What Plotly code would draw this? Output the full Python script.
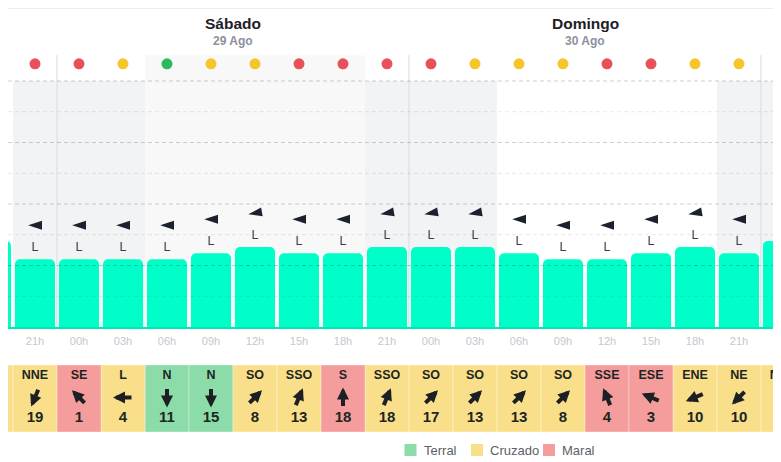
import math

import plotly.graph_objects as go

# one column every 3 hours, from Friday 18h to Monday 00h
cols = list(range(-1, 18))
hours = ['18h', '21h', '00h', '03h', '06h', '09h', '12h', '15h', '18h', '21h',
         '00h', '03h', '06h', '09h', '12h', '15h', '18h', '21h', '00h']
day_of_col = ['Sexta'] * 2 + ['Sábado'] * 8 + ['Domingo'] * 8 + ['Segunda']
days = ['Sábado', 'Domingo']
dates = ['29 Ago', '30 Ago']

wave_m = [0.70, 0.55, 0.55, 0.55, 0.55, 0.60, 0.65, 0.60, 0.60, 0.65,
          0.65, 0.65, 0.60, 0.55, 0.55, 0.60, 0.65, 0.60, 0.70]
swell_dir = [80, 90, 90, 90, 90, 90, 80, 90, 90, 80,
             80, 80, 90, 90, 90, 90, 80, 90, 80]
swell_lbl = ['L'] * 19
rating = ['red', 'red', 'red', 'yellow', 'green', 'yellow', 'yellow', 'red', 'red', 'red',
          'red', 'yellow', 'yellow', 'yellow', 'red', 'red', 'yellow', 'yellow', 'yellow']

wind_dir = ['NNE', 'NNE', 'SE', 'L', 'N', 'N', 'SO', 'SSO', 'S', 'SSO',
            'SO', 'SO', 'SO', 'SO', 'SSE', 'ESE', 'ENE', 'NE', 'NNE']
wind_kmh = [18, 19, 1, 4, 11, 15, 8, 13, 18, 18, 17, 13, 13, 8, 4, 3, 10, 10, 12]
wind_type = ['Cruzado', 'Cruzado', 'Maral', 'Cruzado', 'Terral', 'Terral', 'Cruzado', 'Cruzado',
             'Maral', 'Cruzado', 'Cruzado', 'Cruzado', 'Cruzado', 'Cruzado', 'Maral', 'Maral',
             'Cruzado', 'Cruzado', 'Cruzado']
legend_names = ['Terral', 'Cruzado', 'Maral']

compass = ['N', 'NNE', 'NE', 'ENE', 'L', 'ESE', 'SE', 'SSE',
           'S', 'SSO', 'SO', 'OSO', 'O', 'ONO', 'NO', 'NNO']
dir_deg = {d: i * 22.5 for i, d in enumerate(compass)}

FONT = 'Liberation Sans, Arial, sans-serif'
TEAL = '#00FFC8'
dot_colors = {'red': '#E8505A', 'yellow': '#F6C42B', 'green': '#2DBA5E'}
cell_colors = {'Terral': '#8CDCA9', 'Cruzado': '#F9DF8A', 'Maral': '#F59C9C'}

# the page body keeps an 8px margin, so the figure is made that much smaller
OFF = 8
W, H = 781 - OFF, 462 - OFF
PX_X = 44.0      # px per column
PX_Y = 123.0     # px per metre
X0 = 35 - OFF    # px of column 0
DOT_ROW = 2.14
TOP_DAY = 2.21


def paper_y(ref_px):
    return (462 - ref_px) / H


def paper_x(ref_px):
    return (ref_px - OFF) / W


fig = go.Figure()

# shading for night columns and the highlighted day
for c, h, d in zip(cols, hours, day_of_col):
    if h in ('21h', '00h', '03h'):
        fig.add_shape(type='rect', x0=c - 0.5, x1=c + 0.5, y0=0, y1=2.0,
                      fillcolor='#F2F3F4', line_width=0, layer='below')
    elif d == 'Sábado':
        fig.add_shape(type='rect', x0=c - 0.5, x1=c + 0.5, y0=0, y1=TOP_DAY,
                      fillcolor='#F8F8F8', line_width=0, layer='below')
    if h == '00h':
        fig.add_shape(type='line', x0=c - 0.5, x1=c - 0.5, y0=0, y1=TOP_DAY,
                      line=dict(color='#D5DCE5', width=1), layer='below')

fig.add_trace(go.Bar(x=cols, y=wave_m, width=40 / 44, marker=dict(color=TEAL, cornerradius=5, line_width=0),
                     showlegend=False, hoverinfo='skip'))

for v in [0.25, 0.75, 1.25, 1.75]:
    fig.add_hline(y=v, line=dict(color='rgba(0,0,0,0.09)', width=1, dash='4px,3px'), layer='above')
for v in [0.5, 1.0, 1.5, 2.0]:
    fig.add_hline(y=v, line=dict(color='rgba(0,0,0,0.19)', width=1, dash='4px,3px'), layer='above')

fig.add_trace(go.Scatter(x=cols, y=[DOT_ROW] * len(cols), mode='markers',
                         marker=dict(size=11, color=[dot_colors[r] for r in rating]),
                         showlegend=False, hoverinfo='skip'))

# swell flags: plotly 'arrow' symbol has its tip at the point, so move it half a length
ang = [(d + 180) % 360 for d in swell_dir]
tip_x = [c + 6.8 * math.sin(math.radians(a)) / PX_X for c, a in zip(cols, ang)]
tip_y = [h + 34 / PX_Y + 6.8 * math.cos(math.radians(a)) / PX_Y for h, a in zip(wave_m, ang)]
fig.add_trace(go.Scatter(x=tip_x, y=tip_y, mode='markers',
                         marker=dict(symbol='arrow', size=14.5, angle=ang, color='#1C2130', line_width=0),
                         showlegend=False, hoverinfo='skip'))
fig.add_trace(go.Scatter(x=cols, y=[h + 11 / PX_Y for h in wave_m], mode='text', text=swell_lbl,
                         textfont=dict(family=FONT, size=12.5, color='#3A3F48'),
                         showlegend=False, hoverinfo='skip'))

# wind table
for t in legend_names:
    xs = [c for c, w in zip(cols, wind_type) if w == t]
    fig.add_trace(go.Bar(x=xs, y=[3] * len(xs), width=1, yaxis='y2', name=t, showlegend=False,
                         marker=dict(color=cell_colors[t], cornerradius=0,
                                     line=dict(color='rgba(255,255,255,0.35)', width=1)),
                         hoverinfo='skip'))

fig.add_trace(go.Scatter(x=cols, y=[2.5] * len(cols), yaxis='y2', mode='text', text=wind_dir,
                         textfont=dict(family=FONT, size=12.5, color='#1E2624', weight='bold'),
                         showlegend=False, hoverinfo='skip'))
fig.add_trace(go.Scatter(x=cols, y=[0.6] * len(cols), yaxis='y2', mode='text',
                         text=[str(k) for k in wind_kmh],
                         textfont=dict(family=FONT, size=15, color='#1E2624', weight='bold'),
                         showlegend=False, hoverinfo='skip'))

ARR = 20
for c, d in zip(cols, wind_dir):
    a = math.radians((dir_deg[d] + 180) % 360)
    fig.add_annotation(x=c, y=1.55, xref='x', yref='y2', text='', showarrow=True,
                       ax=-ARR * math.sin(a), ay=ARR * math.cos(a),
                       xshift=ARR / 2 * math.sin(a), yshift=ARR / 2 * math.cos(a),
                       arrowhead=2, arrowsize=0.6, arrowwidth=4, arrowcolor='#1C1F24')

for day, date in zip(days, dates):
    dc = [c for c, d in zip(cols, day_of_col) if d == day]
    xm = sum(dc) / len(dc)
    fig.add_annotation(x=xm, y=paper_y(23), xref='x', yref='paper', yanchor='middle', text=day,
                       showarrow=False, font=dict(family=FONT, size=15.5, color='#1D2026', weight='bold'))
    fig.add_annotation(x=xm, y=paper_y(41), xref='x', yref='paper', yanchor='middle', text=date,
                       showarrow=False, font=dict(family=FONT, size=12, color='#8C919B', weight='bold'))

# legend: rounded swatches with the label just after
legend_x = [410.5, 477, 549]
for name, lx in zip(legend_names, legend_x):
    fig.add_shape(type='rect', xref='paper', yref='paper', xsizemode='pixel', ysizemode='pixel',
                  xanchor=paper_x(lx), yanchor=paper_y(450), x0=-6, x1=6, y0=-6, y1=6,
                  fillcolor=cell_colors[name], line_width=0)
    fig.add_annotation(x=paper_x(lx + 11), y=paper_y(450), xref='paper', yref='paper',
                       xanchor='left', yanchor='middle', text=name, showarrow=False,
                       font=dict(family=FONT, size=13, color='#5B5F66'))

fig.add_shape(type='line', xref='paper', yref='paper', x0=0, x1=1,
              y0=paper_y(8.5), y1=paper_y(8.5), line=dict(color='#ECECEC', width=1))

fig.update_layout(
    width=W, height=H,
    margin=dict(l=0, r=0, t=0, b=0),
    paper_bgcolor='white', plot_bgcolor='rgba(0,0,0,0)',
    barmode='overlay', showlegend=False,
    font=dict(family=FONT),
    xaxis=dict(range=[-X0 / PX_X, (W - X0) / PX_X], tickvals=cols, ticktext=hours,
               tickfont=dict(size=11, color='#C4C8CF'), showgrid=False, zeroline=False,
               showline=True, linecolor='#00E8B6', linewidth=1.5, ticks='', ticklabelstandoff=3,
               fixedrange=True),
    yaxis=dict(domain=[paper_y(327), 1], range=[0, (327 - OFF) / PX_Y], visible=False, fixedrange=True),
    yaxis2=dict(domain=[paper_y(432), paper_y(365)], range=[0, 3], visible=False, anchor='x',
                fixedrange=True),
)

fig.write_html('out.html')
